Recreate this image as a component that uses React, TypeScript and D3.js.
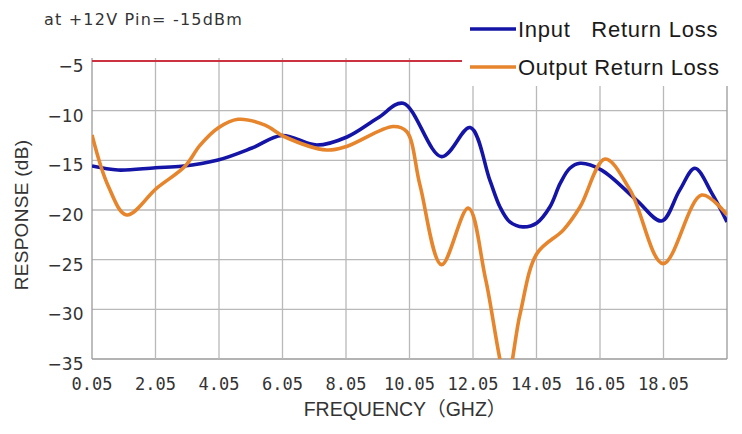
import React from 'react';
import * as d3 from 'd3';

// ---- data ----
const inputFreq = [0.05, 0.87, 2.05, 2.88, 4.02, 5.09, 6.03, 7.13, 8.08, 9.05, 9.85, 11.06, 11.96, 12.58, 12.9, 13.21, 13.62, 14.06, 14.47, 14.8, 15.1, 15.42, 16.1, 17.2, 17.99, 18.56, 19.04, 19.57, 20.05];
const inputLoss = [-15.57, -15.98, -15.74, -15.6, -14.97, -13.76, -12.5, -13.46, -12.65, -10.74, -9.26, -14.63, -11.7, -17.0, -19.7, -21.2, -21.7, -21.3, -19.7, -17.3, -15.8, -15.3, -15.98, -19.0, -21.1, -18.0, -15.8, -18.3, -21.2];

const outputFreq = [0.05, 0.55, 1.14, 2.09, 2.98, 3.45, 4.02, 4.65, 5.5, 6.1, 7.44, 8.07, 9.53, 9.96, 10.38, 11.06, 11.9, 12.45, 13.11, 13.53, 14.06, 14.9, 15.42, 16.21, 17.0, 18.04, 19.25, 20.05];
const outputLoss = [-12.45, -17.5, -20.5, -17.8, -15.6, -13.5, -11.75, -10.87, -11.45, -12.6, -13.96, -13.6, -11.6, -12.1, -17.5, -25.5, -19.8, -27.0, -37.0, -30.5, -24.4, -22.0, -19.7, -14.87, -18.0, -25.4, -18.5, -20.5];

const limitFreq = [0.05, 20.05];
const limitLoss = [-5, -5];

const xTickValues = [0.05, 2.05, 4.05, 6.05, 8.05, 10.05, 12.05, 14.05, 16.05, 18.05];
const xGridValues = [0.05, 2.05, 4.05, 6.05, 8.05, 10.05, 12.05, 14.05, 16.05, 18.05, 20.05];
const yTickValues = [-5, -10, -15, -20, -25, -30, -35];

const seriesNames = ['Input   Return Loss', 'Output Return Loss'];
const noteText = 'at +12V Pin= -15dBm';
const xTitle = 'FREQUENCY（GHZ）';
const yTitle = 'RESPONSE (dB)';

export default function App() {
  const W = 742;
  const H = 434;
  const x = d3.scaleLinear().domain([0.05, 20.05]).range([92, 727]);
  const y = d3.scaleLinear().domain([-35, -5]).range([359, 61]);

  const line = d3
    .line<[number, number]>()
    .x((d) => x(d[0]))
    .y((d) => y(d[1]))
    .curve(d3.curveCatmullRom.alpha(0.5));

  const inputPts = inputFreq.map((f, i) => [f, inputLoss[i]] as [number, number]);
  const outputPts = outputFreq.map((f, i) => [f, outputLoss[i]] as [number, number]);
  const limitPts = limitFreq.map((f, i) => [f, limitLoss[i]] as [number, number]);
  const straight = d3.line<[number, number]>().x((d) => x(d[0])).y((d) => y(d[1]));

  const gridColor = '#b9b9b9';
  const blue = '#1414a6';
  const orange = '#e6852c';

  return (
    <svg
      width={W}
      height={H}
      style={{ position: 'absolute', left: 0, top: 0, background: '#fff' }}
      xmlns="http://www.w3.org/2000/svg"
    >
      <rect x={0} y={0} width={W} height={H} fill="#fff" />
      <defs>
        <clipPath id="plotClip">
          <rect x={x(0.05)} y={y(-5) - 4} width={x(20.05) - x(0.05)} height={y(-35) - y(-5) + 4} />
        </clipPath>
      </defs>

      {/* horizontal grid */}
      {yTickValues.map((v) => (
        <line key={'h' + v} x1={x(0.05)} x2={x(20.05)} y1={y(v)} y2={y(v)} stroke={v === -35 ? '#9a9a9a' : gridColor} strokeWidth={1.3} />
      ))}
      {/* vertical grid */}
      {xGridValues.map((f, i) => (
        <line
          key={'v' + f}
          x1={x(f)}
          x2={x(f)}
          y1={y(-5) - 3}
          y2={y(-35)}
          stroke={i === 0 || i === xGridValues.length - 1 ? '#9a9a9a' : gridColor}
          strokeWidth={1.3}
        />
      ))}

      {/* limit line */}
      <path d={straight(limitPts) || ''} fill="none" stroke="#cc3340" strokeWidth={2} />

      <g clipPath="url(#plotClip)">
        <path d={line(inputPts) || ''} fill="none" stroke={blue} strokeWidth={3.6} strokeLinejoin="round" />
        <path d={line(outputPts) || ''} fill="none" stroke={orange} strokeWidth={3.6} strokeLinejoin="round" />
      </g>

      {/* y tick labels */}
      {yTickValues.map((v) => (
        <text
          key={'yl' + v}
          x={83.5}
          y={y(v) + 11}
          textAnchor="end"
          fontFamily="'DejaVu Sans', sans-serif"
          fontSize={17}
          fill="#333"
        >
          {'\u2212' + Math.abs(v)}
        </text>
      ))}

      {/* x tick labels */}
      {xTickValues.map((f) => (
        <text
          key={'xl' + f}
          x={x(f)}
          y={390}
          textAnchor="middle"
          fontFamily="'DejaVu Sans Mono', monospace"
          fontSize={17}
          fill="#333"
        >
          {f.toFixed(2)}
        </text>
      ))}

      {/* axis titles */}
      <text
        x={405}
        y={416}
        textAnchor="middle"
        fontFamily="'Liberation Sans', Arial, 'Noto Sans CJK SC', sans-serif"
        fontSize={19.5}
        fill="#333"
      >
        {xTitle}
      </text>
      <text
        transform="translate(28,215) rotate(-90)"
        textAnchor="middle"
        fontFamily="'Liberation Sans', Arial, sans-serif"
        fontSize={19}
        letterSpacing={0.3}
        fill="#333"
      >
        {yTitle}
      </text>

      {/* note */}
      <text x={44} y={25} fontFamily="'DejaVu Sans', sans-serif" fontSize={16} letterSpacing={1.2} fill="#333">
        {noteText}
      </text>

      {/* legend */}
      <rect x={462} y={4} width={278} height={82} fill="#fff" />
      <line x1={470} x2={516} y1={29} y2={29} stroke={blue} strokeWidth={3.6} />
      <line x1={470} x2={516} y1={67} y2={67} stroke={orange} strokeWidth={3.6} />
      <text
        x={518}
        y={37}
        fontFamily="'Liberation Sans', Arial, sans-serif"
        fontSize={22}
        letterSpacing={0.75}
        fill="#1a1a1a"
        style={{ whiteSpace: 'pre' }}
      >
        {seriesNames[0]}
      </text>
      <text
        x={518}
        y={75}
        fontFamily="'Liberation Sans', Arial, sans-serif"
        fontSize={22}
        letterSpacing={0.6}
        fill="#1a1a1a"
        style={{ whiteSpace: 'pre' }}
      >
        {seriesNames[1]}
      </text>
    </svg>
  );
}
